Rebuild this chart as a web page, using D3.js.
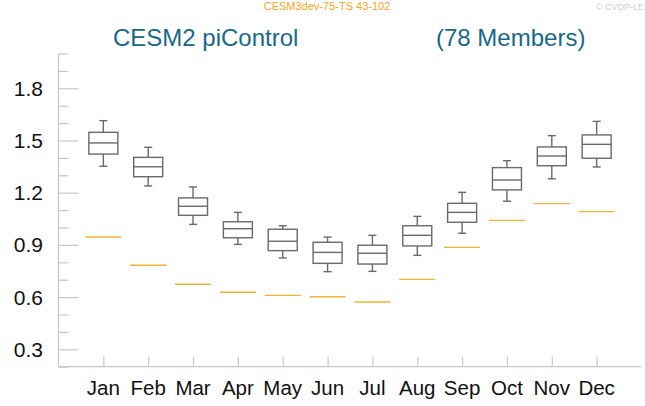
<!DOCTYPE html>
<html><head><meta charset="utf-8">
<script src="https://cdn.jsdelivr.net/npm/d3@7"></script>
<style>body{margin:0;background:#fff;} svg{display:block;font-family:"Liberation Sans",Arial,sans-serif;}</style>
</head><body>
<script>
const months = ["Jan","Feb","Mar","Apr","May","Jun","Jul","Aug","Sep","Oct","Nov","Dec"];
const whiskerHigh = [1.614,1.461,1.233,1.087,1.010,0.945,0.955,1.064,1.202,1.384,1.528,1.610];
const boxHigh     = [1.547,1.403,1.170,1.033,0.990,0.915,0.898,1.010,1.139,1.344,1.463,1.532];
const median      = [1.486,1.349,1.122,0.993,0.921,0.857,0.852,0.955,1.087,1.273,1.411,1.478];
const boxLow      = [1.422,1.292,1.070,0.941,0.867,0.794,0.790,0.894,1.030,1.216,1.355,1.398];
const whiskerLow  = [1.352,1.239,1.018,0.903,0.825,0.746,0.748,0.840,0.967,1.151,1.280,1.348];
const obsValue    = [0.945,0.783,0.674,0.628,0.610,0.602,0.572,0.702,0.886,1.041,1.137,1.091];
const yMajorTicks = [0.3,0.6,0.9,1.2,1.5,1.8];
const yMinorTicks = [0.2,0.4,0.5,0.7,0.8,1.0,1.1,1.3,1.4,1.6,1.7,1.9,2.0];

const W=645,H=406;
const svg=d3.select("body").append("svg").attr("width",W).attr("height",H);
const x=d3.scaleLinear().domain([0,13]).range([58.5,641.5]);
const y=d3.scaleLinear().domain([0.2,2.0]).range([366.7,53.5]);

// titles
svg.append("text").attr("x",327).attr("y",10).attr("text-anchor","middle")
  .attr("font-size",11).attr("fill","#f5a623").text("CESM3dev-75-TS 43-102");
svg.append("text").attr("x",644).attr("y",10).attr("text-anchor","end").attr("font-size",9).attr("fill","#cfcfcf").text("© CVDP-LE");
svg.append("text").attr("x",113).attr("y",46).attr("font-size",24).attr("fill","#17698a").text("CESM2 piControl");
svg.append("text").attr("x",436).attr("y",46).attr("font-size",24).attr("fill","#17698a").text("(78 Members)");

// y axis
const yAxisMaj=d3.axisRight(y).tickValues(yMajorTicks).tickSize(20).tickFormat("");
const gy=svg.append("g").attr("transform",`translate(${x(0)},0)`).call(yAxisMaj);
gy.select(".domain").remove();
gy.selectAll("line").attr("stroke","#c8c8c8").attr("stroke-width",1.2);
const yAxisMin=d3.axisRight(y).tickValues(yMinorTicks).tickSize(10).tickFormat("");
const gy2=svg.append("g").attr("transform",`translate(${x(0)},0)`).call(yAxisMin);
gy2.select(".domain").remove();
gy2.selectAll("line").attr("stroke","#c8c8c8").attr("stroke-width",1.2);
svg.append("g").selectAll("text").data(yMajorTicks).join("text")
  .attr("x",43).attr("y",d=>y(d)+7.5).attr("text-anchor","end").attr("font-size",21).attr("fill","#111")
  .text(d=>d3.format(".1f")(d));
svg.append("line").attr("x1",x(0)).attr("x2",x(0)).attr("y1",y(2.0)).attr("y2",y(0.2))
  .attr("stroke","#c8c8c8").attr("stroke-width",1.2);

// x axis
const xAxis=d3.axisTop(x).tickValues(d3.range(1,13)).tickSize(10).tickFormat("");
const gx=svg.append("g").attr("transform",`translate(0,${y(0.2)})`).call(xAxis);
gx.select(".domain").remove();
gx.selectAll("line").attr("stroke","#c8c8c8").attr("stroke-width",1.2);
svg.append("line").attr("x1",x(0)).attr("x2",x(13)).attr("y1",y(0.2)).attr("y2",y(0.2))
  .attr("stroke","#c8c8c8").attr("stroke-width",1.2);
svg.append("g").selectAll("text").data(months).join("text")
  .attr("x",(d,i)=>x(i+1)).attr("y",395).attr("text-anchor","middle").attr("font-size",20.5).attr("fill","#111")
  .text(d=>d);

// boxes
const bw=29, cw=8, ow=36;
const g=svg.append("g").attr("stroke","#6a6a6a").attr("stroke-width",1.4).attr("fill","none");
months.forEach((m,i)=>{
  const cx=x(i+1);
  g.append("line").attr("x1",cx).attr("x2",cx).attr("y1",y(whiskerHigh[i])).attr("y2",y(boxHigh[i]));
  g.append("line").attr("x1",cx).attr("x2",cx).attr("y1",y(boxLow[i])).attr("y2",y(whiskerLow[i]));
  g.append("line").attr("x1",cx-cw/2).attr("x2",cx+cw/2).attr("y1",y(whiskerHigh[i])).attr("y2",y(whiskerHigh[i]));
  g.append("line").attr("x1",cx-cw/2).attr("x2",cx+cw/2).attr("y1",y(whiskerLow[i])).attr("y2",y(whiskerLow[i]));
  g.append("rect").attr("x",cx-bw/2).attr("width",bw).attr("y",y(boxHigh[i])).attr("height",y(boxLow[i])-y(boxHigh[i]));
  g.append("line").attr("x1",cx-bw/2).attr("x2",cx+bw/2).attr("y1",y(median[i])).attr("y2",y(median[i]));
  svg.append("line").attr("x1",cx-ow/2).attr("x2",cx+ow/2).attr("y1",y(obsValue[i])).attr("y2",y(obsValue[i]))
    .attr("stroke","#f2b233").attr("stroke-width",1.4);
});
</script>
</body></html>
